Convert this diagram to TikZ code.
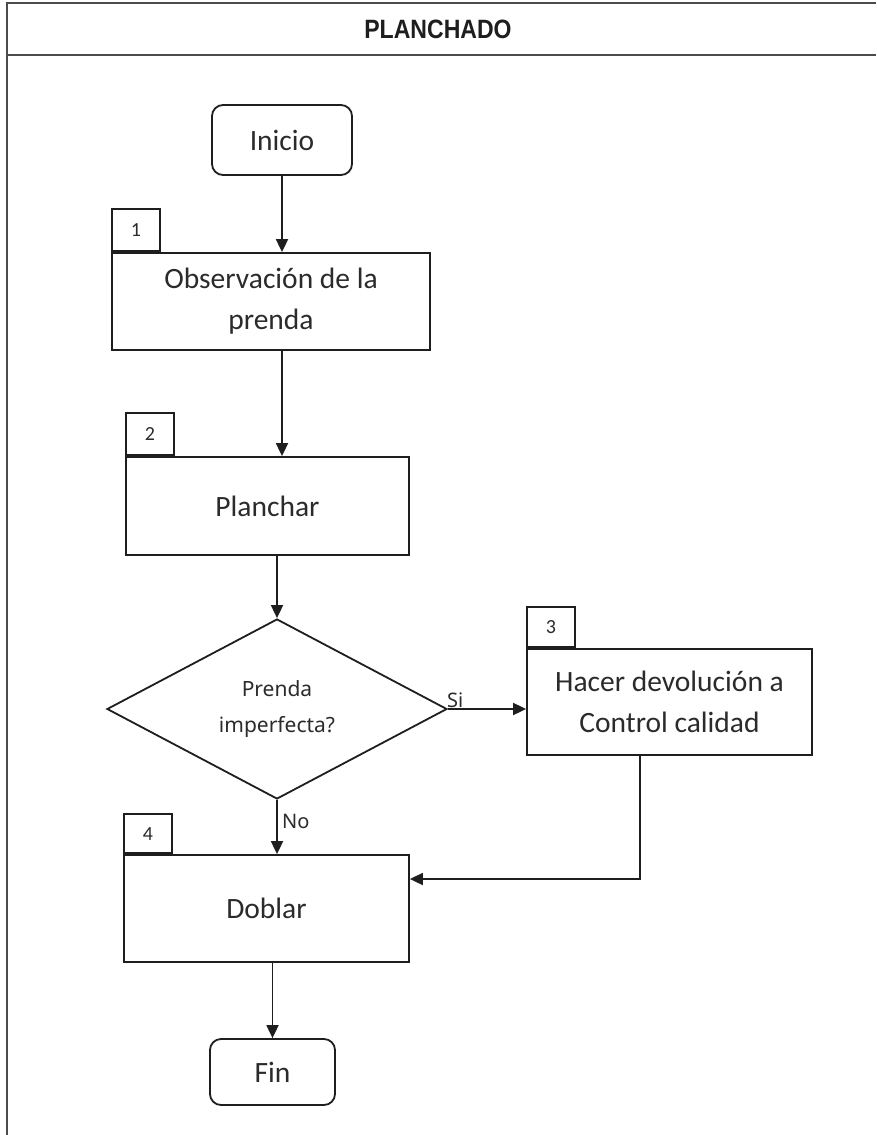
\documentclass[tikz,border=0pt]{standalone}
\usepackage{fontspec}
\usepackage{graphicx}
\setmainfont{Carlito}
\newfontfamily\decfont{Noto Sans}
\newfontfamily\titlefont{Liberation Sans}
\usetikzlibrary{shapes.geometric,arrows.meta}

\definecolor{ink}{HTML}{1E1E1E}
\definecolor{txt}{HTML}{2B2B2B}

\tikzset{
  x=1pt, y=-1pt,
  frameline/.style={draw=ink!80, line width=2.4pt},
  stepbox/.style={draw=ink, line width=1.8pt, rectangle, inner sep=0pt,
    align=center, text=txt, font=\fontsize{29.5}{41}\selectfont},
  termbox/.style={stepbox, rounded corners=11pt},
  tagbox/.style={draw=ink, line width=1.8pt, rectangle, inner sep=0pt,
    minimum width=48, minimum height=42, text=txt,
    font=\fontsize{20}{22}\selectfont},
  decbox/.style={draw=ink, line width=1.8pt, diamond, aspect=1.89, inner sep=0pt,
    minimum width=340, minimum height=180, align=center, text=txt,
    font=\decfont\fontsize{21}{36}\selectfont},
  flow/.style={draw=ink, line width=1.8pt, -{Triangle[width=12pt,length=13pt]}},
  edgelabel/.style={inner sep=0pt, text=txt, font=\decfont\fontsize{20}{22}\selectfont},
}

\begin{document}
\begin{tikzpicture}
\useasboundingbox (0,0) rectangle (876,1135);
\fill[white] (0,0) rectangle (876,1135);

% frame with header band
\draw[frameline] (876,3) -- (7,3) -- (7,1135);
\draw[draw=ink!80, line width=2pt] (7,55) -- (876,55);
\node[text=ink] (title) at (438,29)
  {\scalebox{0.87}[1]{\titlefont\bfseries\fontsize{26.5}{28}\selectfont PLANCHADO}};

% process steps
\node[termbox, minimum width=140, minimum height=70] (inicio) at (282,140) {Inicio};
\node[stepbox, minimum width=318, minimum height=97] (obs) at (271,301.5)
  {Observación de la\\prenda};
\node[stepbox, minimum width=283, minimum height=98] (plan) at (267.5,506) {Planchar};
\node[decbox] (dec) at (277,709) {Prenda\\imperfecta?};
\node[stepbox, minimum width=285, minimum height=106] (ret) at (669.5,702)
  {Hacer devolución a\\Control calidad};
\node[stepbox, minimum width=285, minimum height=107] (dob) at (266.5,908.5) {Doblar};
\node[termbox, minimum width=125, minimum height=66] (fin) at (272.5,1072) {Fin};

% step numbers
\node[tagbox, anchor=south west] (t1) at (obs.north west) {1};
\node[tagbox, anchor=south west] (t2) at (plan.north west) {2};
\node[tagbox, anchor=south west, minimum height=40] (t3) at (ret.north west) {3};
\node[tagbox, anchor=south west, minimum height=39] (t4) at (dob.north west) {4};

% connectors
\coordinate (back) at (640,879);
\draw[flow] (inicio.south) -- (inicio.south |- obs.north);
\draw[flow] (obs.south -| inicio.south) -- (plan.north -| inicio.south);
\draw[flow] (plan.south -| dec.north) -- (dec.north);
\draw[flow] (dec.east) -- (dec.east -| ret.west);
\draw[flow] (dec.south) -- (dob.north -| dec.south);
\draw[flow] (ret.south -| back) -- (back) -- (back -| dob.east);
\draw[flow] (fin.north |- dob.south) -- (fin.north);

% branch labels
\node[edgelabel, anchor=base west] (si) at ([xshift=-1pt,yshift=2pt]dec.east) {Si};
\node[edgelabel, anchor=base west] (no) at ([xshift=5pt,yshift=-29pt]dec.south) {No};
\end{tikzpicture}
\end{document}
